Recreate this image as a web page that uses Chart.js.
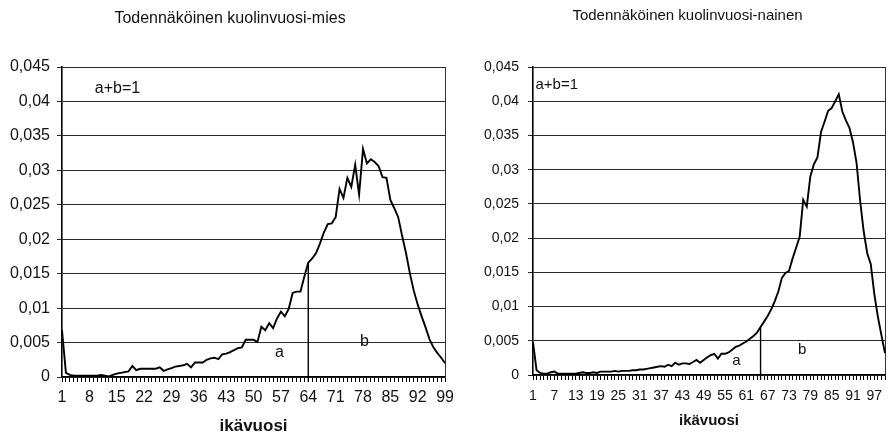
<!DOCTYPE html>
<html lang="fi">
<head>
  <meta charset="UTF-8" />
  <title>Todennäköinen kuolinvuosi</title>
  <script src="https://cdn.jsdelivr.net/npm/chart.js"></script>
  <style>
    body {
      margin: 0;
      background: #fff;
      font-family: "Liberation Sans", Arial, sans-serif;
    }
    .wrap {
      position: relative;
      width: 893px;
      height: 437px;
      overflow: hidden;
    }
    #menChart { position: absolute; left: 0; top: 0; }
    #womenChart { position: absolute; left: 450px; top: 0; }
  </style>
</head>
<body>
<div class="wrap">
  <canvas id="menChart" width="460" height="437"></canvas>
  <canvas id="womenChart" width="443" height="437"></canvas>
</div>

<script>
  // ages (categories)
  const menAges = Array.from({ length: 99 }, (_, i) => String(i + 1));
  const womenAges = Array.from({ length: 100 }, (_, i) => String(i + 1));

  // tick labels that are shown
  const menTickLabels = ['1','8','15','22','29','36','43','50','57','64','71','78','85','92','99'];
  const womenTickLabels = ['1','7','13','19','25','31','37','43','49','55','61','67','73','79','85','91','97'];
  const yTickLabels = ['0','0,005','0,01','0,015','0,02','0,025','0,03','0,035','0,04','0,045'];

  // probability of dying at given age
  const menValues = [
    0.0068, 0.0006, 0.0003, 0.0002, 0.0002, 0.0002, 0.0002, 0.0002, 0.0002, 0.0002,
    0.0003, 0.0002, 0.0001, 0.0003, 0.0005, 0.0006, 0.0007, 0.0008, 0.0016, 0.0010,
    0.0012, 0.0012, 0.0012, 0.0012, 0.0012, 0.0014, 0.0009, 0.0011, 0.0013, 0.0015,
    0.0016, 0.0017, 0.0019, 0.0014, 0.0021, 0.0021, 0.0021, 0.0025, 0.0027, 0.0028,
    0.0026, 0.0033, 0.0034, 0.0036, 0.0039, 0.0042, 0.0043, 0.0054, 0.0054, 0.0054,
    0.0051, 0.0073, 0.0068, 0.0078, 0.0071, 0.0085, 0.0095, 0.0088, 0.0099, 0.0122,
    0.0124, 0.0124, 0.0146, 0.0166, 0.0172, 0.0180, 0.0194, 0.0210, 0.0222, 0.0223,
    0.0232, 0.0273, 0.0260, 0.0289, 0.0276, 0.0308, 0.0265, 0.0331, 0.0310, 0.0316,
    0.0312, 0.0306, 0.0290, 0.0289, 0.0257, 0.0245, 0.0232, 0.0205, 0.0180, 0.0150,
    0.0125, 0.0105, 0.0088, 0.0072, 0.0055, 0.0043, 0.0035, 0.0028, 0.0020
  ];
  const womenValues = [
    0.0048, 0.0007, 0.0003, 0.0002, 0.0002, 0.0004, 0.0005, 0.0002, 0.0002, 0.0002,
    0.0002, 0.0002, 0.0002, 0.0003, 0.0004, 0.0003, 0.0003, 0.0004, 0.0003, 0.0005,
    0.0005, 0.0005, 0.0005, 0.0006, 0.0005, 0.0006, 0.0006, 0.0006, 0.0007, 0.0007,
    0.0008, 0.0008, 0.0009, 0.0010, 0.0011, 0.0012, 0.0013, 0.0012, 0.0015, 0.0013,
    0.0018, 0.0015, 0.0017, 0.0017, 0.0016, 0.0019, 0.0022, 0.0018, 0.0022, 0.0026,
    0.0029, 0.0031, 0.0024, 0.0031, 0.0031, 0.0033, 0.0037, 0.0041, 0.0043, 0.0046,
    0.0049, 0.0053, 0.0057, 0.0062, 0.0070, 0.0078, 0.0086, 0.0096, 0.0108, 0.0122,
    0.0142, 0.0149, 0.0152, 0.0170, 0.0186, 0.0202, 0.0256, 0.0246, 0.0290, 0.0308,
    0.0318, 0.0355, 0.0370, 0.0386, 0.0390, 0.0400, 0.0410, 0.0385, 0.0372, 0.0361,
    0.0340, 0.0310, 0.0255, 0.0210, 0.0178, 0.0162, 0.0118, 0.0085, 0.0058, 0.0032
  ];

  // split line (a | b)
  const menSplit = { age: '64', top: 0.0166 };
  const womenSplit = { age: '65', top: 0.0070 };

  // text notes, placed in data coordinates (age, value)
  const menNotes = [
    { text: 'a+b=1', age: 9.4, value: 0.0418, align: 'left' },
    { text: 'a', age: 56.6, value: 0.0035, align: 'center' },
    { text: 'b', age: 78.4, value: 0.0052, align: 'center' }
  ];
  const womenNotes = [
    { text: 'a+b=1', age: 1.7, value: 0.0424, align: 'left' },
    { text: 'a', age: 58.2, value: 0.0020, align: 'center' },
    { text: 'b', age: 76.7, value: 0.0037, align: 'center' }
  ];

  const FONT = '"Liberation Sans", Arial, sans-serif';
  const GRID = '#2a2a2a';

  // draws the a / b / a+b=1 notes through the scales
  const notesPlugin = {
    id: 'notes',
    afterDatasetsDraw(chart, args, opts) {
      const { ctx, scales } = chart;
      ctx.save();
      ctx.fillStyle = '#111';
      ctx.font = opts.size + 'px ' + FONT;
      ctx.textBaseline = 'middle';
      opts.items.forEach(n => {
        ctx.textAlign = n.align;
        ctx.fillText(n.text, scales.x.getPixelForValue(n.age - 1), scales.y.getPixelForValue(n.value));
      });
      ctx.restore();
    }
  };

  function makeChart(id, cfg) {
    const shown = cfg.tickLabels;
    return new Chart(document.getElementById(id), {
      type: 'line',
      data: {
        labels: cfg.ages,
        datasets: [
          {
            data: cfg.values,
            borderColor: '#000',
            borderWidth: 1.9,
            pointRadius: 0,
            tension: 0
          },
          {
            data: [{ x: cfg.split.age, y: -0.0007 }, { x: cfg.split.age, y: cfg.split.top }],
            borderColor: '#000',
            borderWidth: 1.4,
            pointRadius: 0,
            clip: false
          }
        ]
      },
      options: {
        responsive: false,
        animation: false,
        events: [],
        layout: { padding: { left: cfg.padLeft, right: 0, top: 0, bottom: 0 } },
        plugins: {
          legend: { display: false },
          tooltip: { enabled: false },
          title: {
            display: true,
            text: cfg.title,
            color: '#111',
            font: { family: FONT, size: cfg.titleSize, weight: 'normal' },
            padding: { top: cfg.titleTop, bottom: cfg.titleBottom }
          },
          notes: { items: cfg.notes, size: cfg.noteSize }
        },
        scales: {
          x: {
            afterFit: s => { s.height = cfg.xHeight; },
            offset: false,
            grid: { drawOnChartArea: false, drawTicks: true, tickLength: 5, color: '#000', lineWidth: 1 },
            border: { display: true, color: '#000', width: 1.2 },
            ticks: {
              autoSkip: false,
              maxRotation: 0,
              padding: cfg.xPad,
              color: '#111',
              font: { family: FONT, size: cfg.xTickSize },
              callback: function (value) {
                const l = this.getLabelForValue(value);
                return shown.includes(l) ? l : '';
              }
            },
            title: {
              display: true,
              text: 'ikävuosi',
              color: '#111',
              font: { family: FONT, size: cfg.xTitleSize, weight: 'bold' },
              padding: { top: 0, bottom: cfg.xTitleBottom }
            }
          },
          y: {
            min: 0,
            max: 0.045,
            afterFit: s => { s.width = cfg.yWidth; },
            grid: { color: GRID, lineWidth: 1, tickLength: 5 },
            border: { display: true, color: '#000', width: 1.6 },
            ticks: {
              stepSize: 0.005,
              padding: cfg.yPad,
              color: '#111',
              font: { family: FONT, size: cfg.yTickSize },
              callback: value => yTickLabels[Math.round(value / 0.005)]
            }
          },
          y2: {
            position: 'right',
            min: 0,
            max: 0.045,
            afterFit: s => { s.width = cfg.rightWidth; },
            grid: { drawOnChartArea: false, drawTicks: false },
            border: { display: true, color: '#333', width: 1 },
            ticks: { display: false }
          }
        }
      },
      plugins: [notesPlugin]
    });
  }

  makeChart('menChart', {
    ages: menAges, values: menValues, tickLabels: menTickLabels,
    split: menSplit, notes: menNotes,
    title: 'Todennäköinen kuolinvuosi-mies',
    titleSize: 16, titleTop: 9, titleBottom: 38.8,
    padLeft: 0, yWidth: 62, rightWidth: 12, xHeight: 60,
    xTickSize: 16, xPad: 6, xTitleSize: 17, xTitleBottom: 0,
    yTickSize: 16, yPad: 7, noteSize: 16
  });

  makeChart('womenChart', {
    ages: womenAges, values: womenValues, tickLabels: womenTickLabels,
    split: womenSplit, notes: womenNotes,
    title: 'Todennäköinen kuolinvuosi-nainen',
    titleSize: 15, titleTop: 7, titleBottom: 42,
    padLeft: 32, yWidth: 51, rightWidth: 1, xHeight: 62,
    xTickSize: 14, xPad: 8, xTitleSize: 15, xTitleBottom: 7,
    yTickSize: 14, yPad: 9, noteSize: 15
  });
</script>
</body>
</html>
